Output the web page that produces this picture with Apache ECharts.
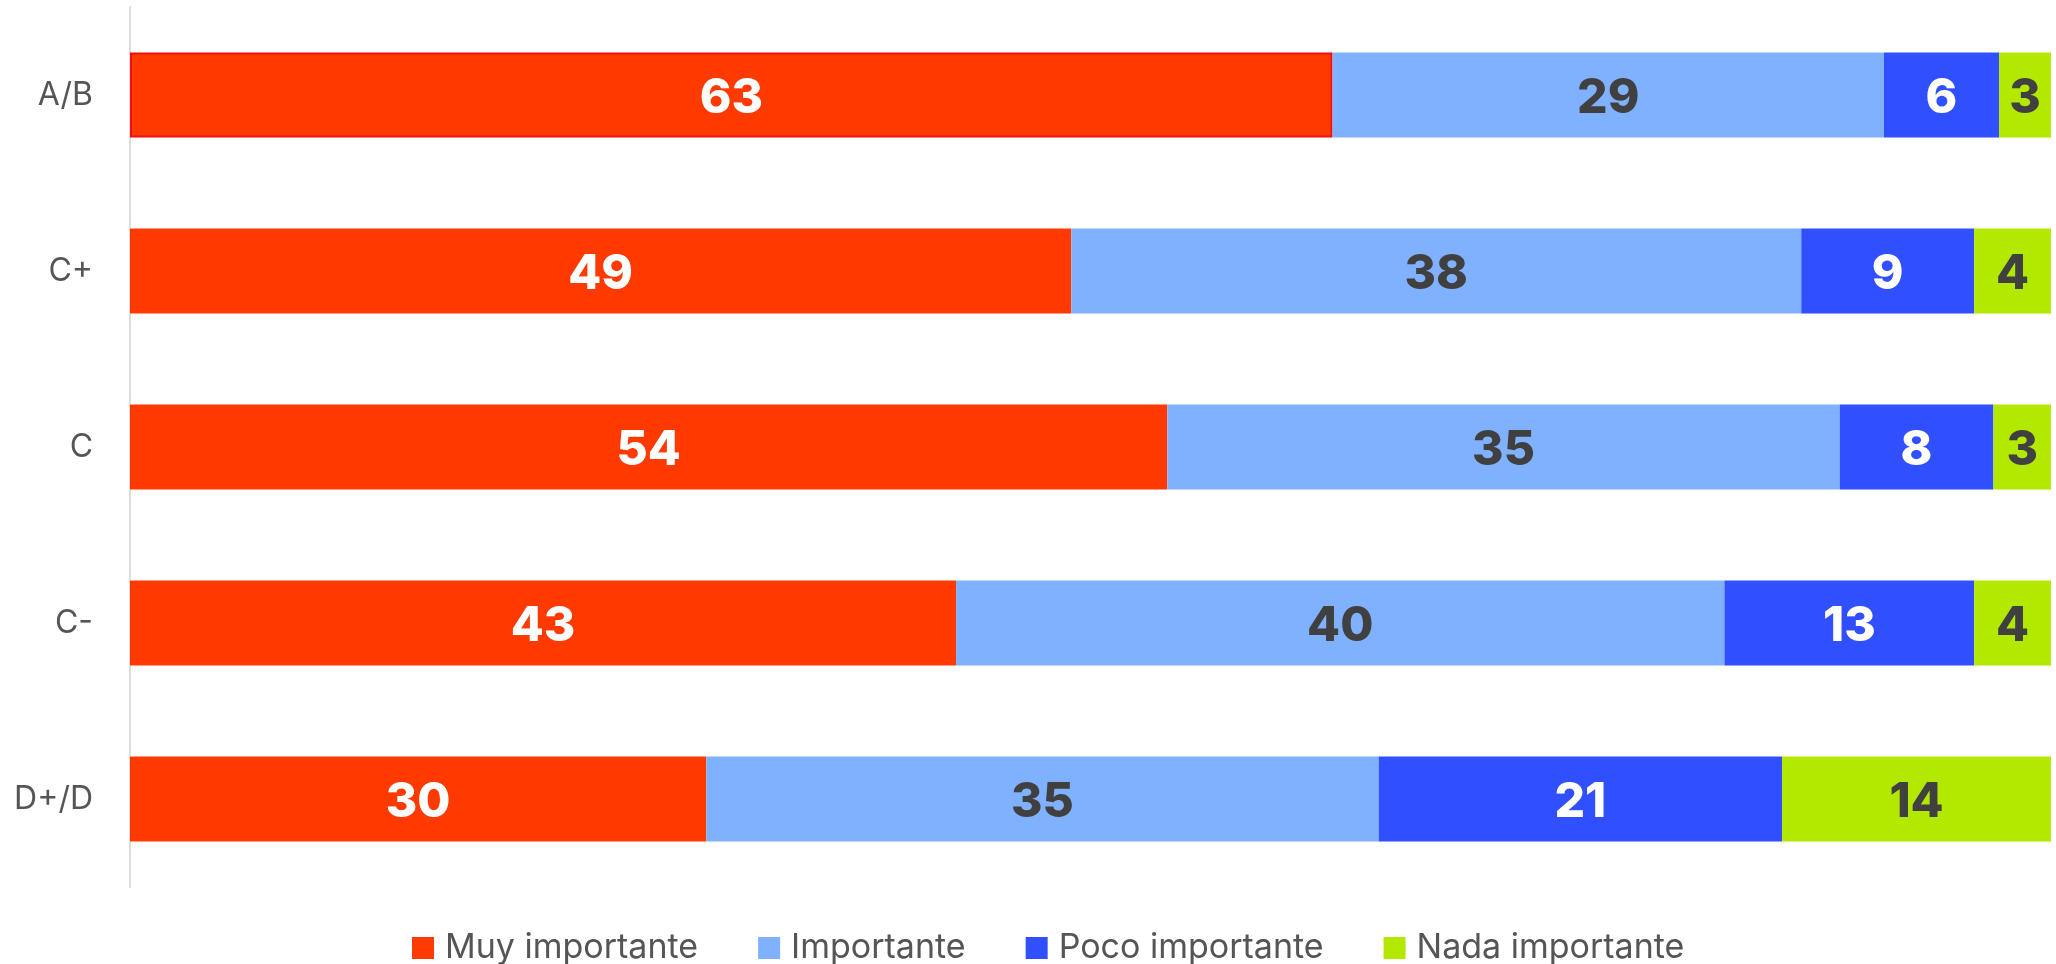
<!DOCTYPE html>
<html>
<head>
<meta charset="utf-8">
<script src="https://cdn.jsdelivr.net/npm/echarts@6/dist/echarts.min.js"></script>
<style>
html,body{margin:0;padding:0;background:#fff;}
#chart{width:2056px;height:964px;}
</style>
</head>
<body>
<div id="chart"></div>
<script>
var categories = ['A/B', 'C+', 'C', 'C-', 'D+/D'];
var seriesNames = ['Muy importante', 'Importante', 'Poco importante', 'Nada importante'];
var muyImportante = [62.6, 49, 54, 43, 30];
var importante = [28.7, 38, 35, 40, 35];
var pocoImportante = [6.0, 9, 8, 13, 21];
var nadaImportante = [2.7, 4, 3, 4, 14];

var colors = ['#FF3A00', '#80B1FF', '#3050FF', '#B3E800'];
var labelColors = ['#ffffff', '#404040', '#ffffff', '#404040'];
var values = [muyImportante, importante, pocoImportante, nadaImportante];

var FONT = 'Inter, "Noto Sans", sans-serif';

var series = values.map(function (arr, i) {
  return {
    name: seriesNames[i],
    type: 'bar',
    stack: 'total',
    barWidth: 85,
    itemStyle: { color: colors[i] },
    label: {
      show: true,
      position: 'inside',
      offset: [0, 4],
      color: labelColors[i],
      fontFamily: FONT,
      fontWeight: 800,
      fontSize: 48,
      formatter: function (p) { return Math.round(p.value); }
    },
    data: arr.map(function (v, j) {
      if (i === 0 && j === 0) {
        return { value: v, itemStyle: { borderColor: '#F01010', borderWidth: 2 } };
      }
      return v;
    })
  };
});

var chart = echarts.init(document.getElementById('chart'));
chart.setOption({
  animation: false,
  color: colors,
  grid: { left: 130, right: 5, top: 7, bottom: 77, containLabel: false },
  legend: {
    top: 926,
    left: 407,
    itemWidth: 22,
    itemHeight: 22,
    itemGap: 60,
    icon: 'rect',
    textStyle: { fontFamily: FONT, fontSize: 34, color: '#555555', padding: [0, 0, 0, 6] },
    data: seriesNames
  },
  xAxis: {
    type: 'value',
    min: 0,
    max: 100,
    show: false
  },
  yAxis: {
    type: 'category',
    inverse: true,
    data: categories,
    axisLine: { show: true, lineStyle: { color: '#dddddd', width: 2 } },
    axisTick: { show: false },
    axisLabel: { fontFamily: FONT, fontSize: 32, color: '#555555', margin: 37, padding: [4, 0, 0, 0] }
  },
  series: series
});
</script>
</body>
</html>
